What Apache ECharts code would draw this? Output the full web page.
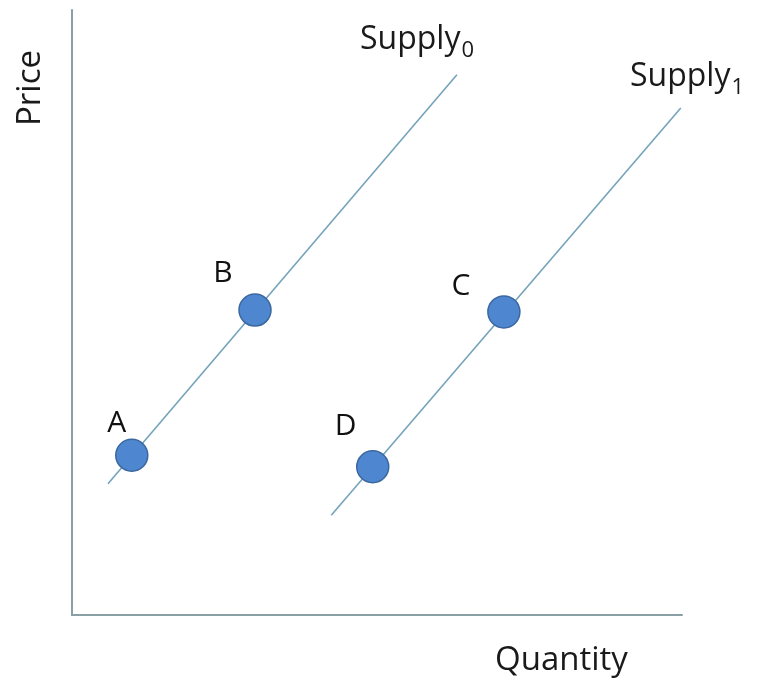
<!DOCTYPE html>
<html>
<head>
<meta charset="utf-8">
<script src="https://cdn.jsdelivr.net/npm/echarts@6/dist/echarts.min.js"></script>
<style>
html,body{margin:0;padding:0;background:#fff;}
#chart{width:761px;height:686px;}
</style>
</head>
<body>
<div id="chart"></div>
<script>
// Data (abstract units on 0–10 axes)
const supply0 = [[0.59, 2.17], [6.31, 8.93]];
const supply1 = [[4.25, 1.65], [9.98, 8.38]];
const pointNames = ['A', 'B', 'C', 'D'];
const pointX = [0.98, 3.0, 7.08, 4.93];
const pointY = [2.64, 5.04, 5.01, 2.45];
const axisTitles = { x: 'Quantity', y: 'Price' };
const supplyNames = ['Supply', 'Supply'];
const supplySubs = ['0', '1'];

const FONT = '"Open Sans", sans-serif';
const labelOffsets = [[-15, -32], [-32, -37], [-43, -25], [-27, -40]];

const chart = echarts.init(document.getElementById('chart'), null, { renderer: 'canvas' });

const pts = pointNames.map((n, i) => ({
  name: n,
  value: [pointX[i], pointY[i]],
  label: { offset: labelOffsets[i] }
}));

const lineStyle = { color: '#74a3bb', width: 1.6 };

function supplyLabel(i, x, y) {
  return {
    type: 'text',
    left: x, top: y,
    style: {
      text: '{a|' + supplyNames[i] + '}{b|' + supplySubs[i] + '}',
      fill: '#1a1a1a',
      rich: {
        a: { fontFamily: FONT, fontSize: 32, lineHeight: 44, fill: '#1a1a1a' },
        b: { fontFamily: FONT, fontSize: 22, lineHeight: 18, verticalAlign: 'bottom', fill: '#1a1a1a', padding: [0, 0, 0, 1] }
      }
    }
  };
}

chart.setOption({
  animation: false,
  backgroundColor: '#ffffff',
  grid: { left: 72, right: 79, top: 10, bottom: 71 },
  xAxis: {
    type: 'value', min: 0, max: 10,
    axisLine: { show: true, lineStyle: { color: '#8aa0a4', width: 2 } },
    axisTick: { show: false }, axisLabel: { show: false }, splitLine: { show: false }
  },
  yAxis: {
    type: 'value', min: 0, max: 10,
    axisLine: { show: true, lineStyle: { color: '#8aa0a4', width: 2 } },
    axisTick: { show: false }, axisLabel: { show: false }, splitLine: { show: false }
  },
  series: [
    { type: 'line', data: supply0, symbol: 'none', lineStyle: lineStyle, z: 2 },
    { type: 'line', data: supply1, symbol: 'none', lineStyle: lineStyle, z: 2 },
    {
      type: 'scatter', data: pts, symbol: 'circle', symbolSize: 32, z: 3,
      itemStyle: { color: '#4e87cf', borderColor: '#3a679f', borderWidth: 1.5, opacity: 1 },
      label: {
        show: true, position: 'inside', formatter: '{b}',
        fontFamily: FONT, fontSize: 30, color: '#111'
      }
    }
  ],
  graphic: [
    {
      type: 'text', left: 14, top: 50, rotation: Math.PI / 2,
      style: { text: axisTitles.y, fontFamily: FONT, fontSize: 33, fill: '#1a1a1a' }
    },
    {
      type: 'text', left: 495, top: 644,
      style: { text: axisTitles.x, fontFamily: FONT, fontSize: 33, fill: '#1a1a1a' }
    },
    supplyLabel(0, 360, 24),
    supplyLabel(1, 630, 61)
  ]
});
</script>
</body>
</html>
